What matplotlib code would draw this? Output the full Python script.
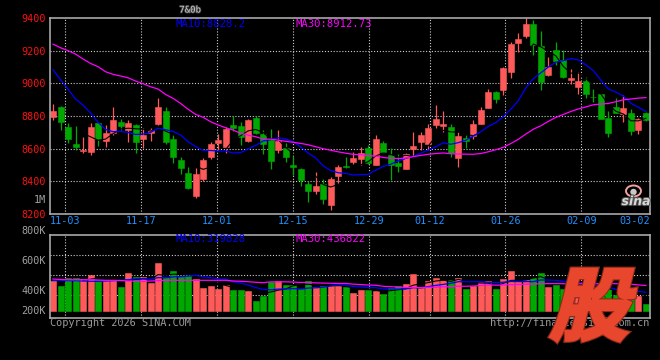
import numpy as np
import pandas as pd
import matplotlib
matplotlib.use("Agg")
import matplotlib.pyplot as plt
from matplotlib.textpath import TextPath
from matplotlib.patches import PathPatch, Ellipse
from matplotlib.font_manager import FontProperties
from matplotlib.path import Path
from matplotlib.transforms import Affine2D
import matplotlib.patheffects as pe

# ---------------- data ----------------
opens = [8796, 8853, 8732, 8628, 8588, 8581, 8757, 8649, 8696, 8763,
         8714, 8745, 8661, 8696, 8751, 8830, 8659, 8533, 8451, 8310,
         8414, 8549, 8635, 8610, 8745, 8739, 8647, 8788, 8690, 8653,
         8592, 8604, 8498, 8475, 8384, 8341, 8384, 8255, 8433, 8492,
         8518, 8537, 8604, 8500, 8635, 8561, 8512, 8475, 8598, 8641,
         8628, 8745, 8739, 8732, 8543, 8665, 8677, 8751, 8849, 8947,
         8959, 9069, 9247, 9289, 9363, 9228, 9051, 9204, 9142, 9022,
         8977, 9014, 8918, 8934, 8788, 8855, 8812, 8818, 8714, 8818]
highs = [8873, 8861, 8757, 8739, 8671, 8757, 8757, 8745, 8855, 8781,
         8775, 8751, 8726, 8726, 8910, 8855, 8683, 8549, 8488, 8482,
         8543, 8641, 8690, 8732, 8800, 8763, 8781, 8800, 8714, 8720,
         8714, 8635, 8555, 8482, 8402, 8457, 8414, 8426, 8500, 8549,
         8579, 8610, 8622, 8683, 8647, 8604, 8567, 8573, 8702, 8702,
         8751, 8867, 8830, 8751, 8702, 8683, 8775, 8855, 8965, 8953,
         9100, 9253, 9308, 9400, 9387, 9320, 9161, 9253, 9204, 9087,
         9069, 9038, 8965, 8934, 8830, 8910, 8928, 8843, 8788, 8824]
lows = [8775, 8714, 8637, 8592, 8571, 8561, 8616, 8612, 8681, 8714,
        8641, 8575, 8604, 8647, 8745, 8628, 8512, 8445, 8353, 8298,
        8402, 8537, 8592, 8573, 8708, 8622, 8641, 8690, 8567, 8475,
        8573, 8518, 8439, 8371, 8273, 8322, 8261, 8224, 8384, 8482,
        8506, 8500, 8506, 8500, 8573, 8408, 8457, 8475, 8555, 8592,
        8592, 8726, 8702, 8549, 8488, 8604, 8659, 8751, 8849, 8879,
        8928, 9032, 9191, 9277, 9173, 8959, 9045, 9112, 9032, 8996,
        8934, 8910, 8885, 8783, 8671, 8818, 8763, 8683, 8690, 8769]
closes = [8830, 8765, 8661, 8612, 8594, 8732, 8659, 8696, 8775, 8739,
          8757, 8643, 8683, 8714, 8855, 8641, 8549, 8482, 8359, 8445,
          8530, 8628, 8653, 8720, 8726, 8671, 8775, 8696, 8628, 8524,
          8647, 8549, 8490, 8408, 8341, 8371, 8292, 8414, 8488, 8488,
          8543, 8573, 8512, 8659, 8579, 8500, 8494, 8567, 8616, 8683,
          8726, 8781, 8751, 8573, 8677, 8647, 8751, 8836, 8947, 8904,
          9094, 9240, 9271, 9363, 9234, 9008, 9100, 9136, 9038, 9030,
          9014, 8934, 8914, 8783, 8696, 8818, 8849, 8708, 8781, 8775]
volumes_k = [508, 428, 564, 564, 547, 616, 525, 525, 525, 410,
             650, 581, 581, 479, 821, 581, 684, 581, 599, 547,
             393, 428, 376, 445, 359, 359, 342, 171, 257, 496,
             513, 445, 445, 376, 513, 410, 428, 428, 428, 410,
             308, 359, 359, 342, 291, 393, 428, 462, 633, 393,
             513, 564, 530, 530, 564, 376, 428, 496, 513, 376,
             547, 684, 513, 530, 564, 650, 410, 445, 376, 291,
             410, 376, 342, 410, 376, 274, 308, 325, 257, 120]

# moving-average values before the first full window
ma10_head = [9083, 9022, 8965, 8904, 8867, 8820, 8761, 8718, 8704]
ma30_head = [9240, 9218, 9200, 9179, 9149, 9122, 9102, 9071, 9055, 9045,
             9034, 9014, 8998, 8979, 8965, 8932, 8908, 8877, 8841, 8810,
             8792, 8765, 8745, 8728, 8714, 8694, 8683, 8673, 8659]
vma10_head_k = [525, 525, 518, 518, 513, 508, 508, 513, 518]
vma30_head_k = [547, 539, 535, 535, 535, 535, 530, 525, 525, 522,
                513, 508, 508, 513, 518, 525, 525, 525, 525, 525,
                525, 525, 525, 525, 513, 508, 501, 491, 484]

tick_dates = ["11-03", "11-17", "12-01", "12-15", "12-29", "01-12", "01-26", "02-09"]
last_date = "03-02"
price_ticks = [8200, 8400, 8600, 8800, 9000, 9200, 9400]
vol_labels = ["800K", "600K", "400K", "200K"]

ma_price_texts = ["MA10:8828.2", "MA30:8912.73"]
ma_vol_texts = ["MA10:319828", "MA30:436822"]

# trading calendar
days = pd.bdate_range("2025-10-30", "2026-03-02")
holidays = pd.to_datetime(["2026-01-01", "2026-01-02", "2026-02-16", "2026-02-17",
                           "2026-02-18", "2026-02-19", "2026-02-20", "2026-02-23"])
days = days[~days.isin(holidays)]
day_labels = list(days.strftime("%m-%d"))

# ---------------- helpers ----------------
def moving_avg(values, n, head=None):
    v = np.asarray(values, float)
    out = np.full(len(v), np.nan)
    if head is not None:
        out[:len(head)] = head
    for k in range(n - 1, len(v)):
        out[k] = v[k - n + 1:k + 1].mean()
    return out

W, H = 660, 360
BG = "black"
RED = "#ff5a5a"
GREEN = "#00a800"
GRID = "#cfcfcf"
BORDER = "#a8a8a8"
MONO = "DejaVu Sans Mono"
FS = 7

o = np.array(opens, float); c = np.array(closes, float)
hi = np.array(highs, float); lo = np.array(lows, float)
vol = np.array(volumes_k, float) * 1000
x = np.arange(len(o))
cols = [RED if cc >= oo else GREEN for oo, cc in zip(o, c)]

ma5 = moving_avg(c, 5)
ma10 = moving_avg(c, 10, ma10_head)
ma30 = moving_avg(c, 30, ma30_head)
vma5 = moving_avg(vol, 5)
vma10 = moving_avg(vol, 10, np.array(vma10_head_k) * 1000)
vma30 = moving_avg(vol, 30, np.array(vma30_head_k) * 1000)

fig = plt.figure(figsize=(W / 100, H / 100), dpi=100, facecolor=BG)

def axrect(l, t, r, b):
    return [l / W, 1 - b / H, (r - l) / W, (b - t) / H]

ax1 = fig.add_axes(axrect(50, 18, 650, 214), facecolor=BG)
ax2 = fig.add_axes(axrect(50, 235, 650, 318), facecolor=BG)

XL = (-0.4, 79.54)
tick_pos = [day_labels.index(d) for d in tick_dates]
grid_pos = [p - 0.36 + 0.011 * (p - 2) for p in tick_pos]

gkw = dict(color=GRID, lw=0.8, ls=(0, (1, 1.6)), zorder=0.5)

# ---- price panel ----
ax1.vlines(x, lo, hi, colors=cols, lw=0.9, zorder=2)
ax1.bar(x, np.maximum(np.abs(c - o), 1.0), bottom=np.minimum(o, c), width=0.8,
        color=cols, edgecolor=cols, lw=0.4, zorder=3)
ax1.plot(x, ma5, color="black", lw=0.8, zorder=4)
ax1.plot(x, ma10, color="#0000ff", lw=0.9, zorder=5)
ax1.plot(x, ma30, color="#ff00ff", lw=0.9, zorder=5)
ax1.set_xlim(*XL)
ax1.set_ylim(8200, 9400)
for yv in price_ticks[1:-1]:
    ax1.axhline(yv, **gkw)
for gp in grid_pos:
    ax1.axvline(gp, **gkw)
ax1.set_yticks(price_ticks)
ax1.set_yticklabels([str(p) for p in price_ticks], fontfamily=MONO, fontsize=FS + 0.3)
ax1.tick_params(axis="y", colors="#ff1010", length=0, pad=3)
ax1.set_xticks([])
for gp, lab in zip(grid_pos, tick_dates):
    ax1.text(gp, -0.036, lab, transform=ax1.get_xaxis_transform(), ha="center", va="center",
             color="#1e90ff", fontfamily=MONO, fontsize=FS + 0.3)
ax1.text(1.0, -0.036, last_date, transform=ax1.transAxes, ha="right", va="center",
         color="#1e90ff", fontfamily=MONO, fontsize=FS + 0.3)
ax1.text(-0.007, 0.069, "1M", transform=ax1.transAxes, ha="right", va="center",
         color="#a0a0a0", fontfamily=MONO, fontsize=FS + 0.3)

# ---- volume panel ----
VOL_PX = 17100
ax2.bar(x, vol, width=0.8, color=cols, edgecolor=cols, lw=0.4, zorder=3)
ax2.plot(x, vma5, color="black", lw=0.8, zorder=4)
ax2.plot(x, vma10, color="#0000ff", lw=0.9, zorder=5)
ax2.plot(x, vma30, color="#ff00ff", lw=0.9, zorder=5)
ax2.set_xlim(*XL)
ax2.set_ylim(-7 * VOL_PX, 76 * VOL_PX)
for f in [0.755, 0.514, 0.273]:
    ax2.plot([0, 1], [f, f], transform=ax2.transAxes, **gkw)
for gp in grid_pos:
    ax2.axvline(gp, **gkw)
ax2.set_xticks([]); ax2.set_yticks([])
for lab, f in zip(vol_labels, [1.048, 0.687, 0.325, 0.084]):
    ax2.text(-0.007, f, lab, transform=ax2.transAxes, ha="right", va="center",
             color="#a0a0a0", fontfamily=MONO, fontsize=FS + 0.3, clip_on=False)

for ax in (ax1, ax2):
    for s in ax.spines.values():
        s.set_color(BORDER)
        s.set_linewidth(1.2)
        s.set_zorder(6)

def ftext(px, py, s, **kw):
    fig.text(px / W, 1 - py / H, s, **kw)

# MA captions
ftext(175, 23.7, ma_price_texts[0], color="#0000ff", fontfamily=MONO, fontsize=FS + 0.6, va="center")
ftext(295, 23.7, ma_price_texts[1], color="#ff00ff", fontfamily=MONO, fontsize=FS + 0.6, va="center")
ftext(175, 238.5, ma_vol_texts[0], color="#0000ff", fontfamily=MONO, fontsize=FS + 0.6, va="center")
ftext(295, 238.5, ma_vol_texts[1], color="#ff00ff", fontfamily=MONO, fontsize=FS + 0.6, va="center")

# title (small, illegible in reference)
ftext(190, 10, "7&0b", color="#c8c8c8", fontfamily=MONO, fontsize=6.5, ha="center", va="center",
      path_effects=[pe.withStroke(linewidth=1.2, foreground="#404040")])

# footer texts
ftext(50, 323, "Copyright 2026 SINA.COM", color="#9a9a9a", fontfamily=MONO, fontsize=FS + 0.4, va="center")
ftext(649, 323, "http://finance.sina.com.cn", color="#9a9a9a", fontfamily=MONO, fontsize=FS + 0.4,
      va="center", ha="right")

# sina logo
fig.add_artist(Ellipse((633.5 / W, 1 - 191 / H), 15 / W, 11 / H, fill=False,
                       edgecolor="#f2a0a0", lw=1.4, transform=fig.transFigure, zorder=7))
fig.add_artist(Ellipse((633.5 / W, 1 - 192 / H), 5 / W, 5 / H, color="#c8c8c8",
                       transform=fig.transFigure, zorder=7))
ftext(636, 201.5, "sina", color="#d8d8d8", fontsize=9, fontweight="bold", fontstyle="italic",
      ha="center", va="center", zorder=7,
      path_effects=[pe.withStroke(linewidth=1.5, foreground="#505050")])

# big "股" watermark (skewed, heavy)
fp = FontProperties(family="Noto Sans CJK SC", weight="bold")
tp = TextPath((0, 0), "股", size=1, prop=fp)
ext = tp.get_extents()
s = 72.0 / ext.height
tr = (Affine2D().translate(-ext.x0, -ext.y0).scale(s * 1.0, s)
      .skew_deg(14, 0))
verts = tr.transform(tp.vertices)
verts[:, 0] += 549 - verts[:, 0].min()
verts[:, 1] += (H - 341) - verts[:, 1].min()
verts = verts / np.array([W, H])
wm_path = Path(verts, tp.codes)
fig.add_artist(PathPatch(wm_path, facecolor="#e9462e", edgecolor="#8e2a18", lw=3.6,
                         transform=fig.transFigure, zorder=20))
fig.add_artist(PathPatch(wm_path, facecolor="#e9462e", edgecolor="#e9462e", lw=2.0,
                         transform=fig.transFigure, zorder=21))

fig.savefig("out.png", dpi=100, facecolor=BG)
